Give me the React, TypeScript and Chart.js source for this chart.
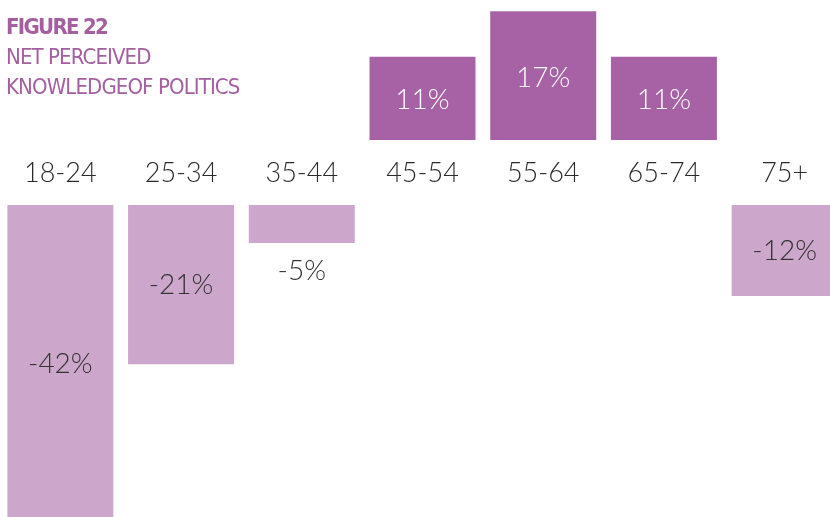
import React, { useEffect, useRef } from "react";
import { Chart, registerables } from "chart.js";

Chart.register(...registerables);

const categories = ["18-24", "25-34", "35-44", "45-54", "55-64", "65-74", "75+"];
const values = [-42, -21, -5, 11, 17, 11, -12];
const titleLines = ["FIGURE 22", "NET PERCEIVED", "KNOWLEDGEOF POLITICS"];

const GAP = 4.29; // half-gap between positive and negative baselines, in value units
const POS_COLOR = "#a662a5";
const NEG_COLOR = "#cca6cb";
const FONT = "Lato";

const labelPlugin = {
  id: "barLabels",
  afterDatasetsDraw(chart: any) {
    const meta = chart.getDatasetMeta(0);
    const ctx = chart.ctx;
    ctx.save();
    ctx.font = `300 28px ${FONT}`;
    ctx.textAlign = "center";
    ctx.textBaseline = "middle";
    meta.data.forEach((bar: any, i: number) => {
      const v = values[i];
      const { x, y, base } = bar.getProps(["x", "y", "base"], true);
      const h = Math.abs(y - base);
      let ty = (y + base) / 2;
      if (v >= 0) {
        ctx.fillStyle = "#ffffff";
        ty += 2;
      } else {
        ctx.fillStyle = "#333333";
        if (h < 50) ty = y + 28;
      }
      ctx.fillText(`${v}%`, x, ty);
    });
    ctx.restore();
  },
};

export default function App() {
  const ref = useRef<HTMLCanvasElement>(null);
  useEffect(() => {
    let chart: Chart | null = null;
    let cancelled = false;
    const make = () => {
      if (cancelled || !ref.current) return;
      chart = new Chart(ref.current, {
        type: "bar",
        data: {
          labels: categories,
          datasets: [
            {
              data: values.map((v) => (v >= 0 ? [GAP, GAP + v] : [-GAP, -GAP + v])) as any,
              backgroundColor: values.map((v) => (v >= 0 ? POS_COLOR : NEG_COLOR)),
              borderWidth: 0,
              barPercentage: 0.878,
              categoryPercentage: 1,
            },
          ],
        },
        options: {
          animation: false,
          responsive: true,
          maintainAspectRatio: false,
          layout: { padding: 0 },
          plugins: { legend: { display: false }, tooltip: { enabled: false }, title: { display: false } },
          scales: {
            x: {
              position: { y: 0 } as any,
              grid: { display: false },
              border: { display: false },
              ticks: {
                color: "#2a2a2a",
                font: { family: FONT, size: 27, weight: "300" as any, lineHeight: 1.2 },
                padding: -23,
                maxRotation: 0,
                autoSkip: false,
              },
            },
            y: {
              display: false,
              min: -45.44,
              max: 22.76,
            },
          },
        },
        plugins: [labelPlugin],
      });
    };
    const fontsReady = (document as any).fonts
      ? Promise.all([
          (document as any).fonts.load(`300 28px ${FONT}`),
          (document as any).fonts.load(`400 28px ${FONT}`),
        ]).catch(() => null)
      : Promise.resolve(null);
    fontsReady.then(make);
    return () => {
      cancelled = true;
      if (chart) chart.destroy();
    };
  }, []);

  return (
    <div style={{ position: "absolute", left: 0, top: 0, width: 830, height: 517, overflow: "hidden", background: "#fff" }}>
      <div style={{ position: "absolute", left: 0, top: 0, width: 845, height: 517 }}>
        <canvas ref={ref} />
      </div>
      <div
        style={{
          position: "absolute",
          left: 6,
          top: 12,
          color: "#a35fa0",
          fontFamily: "'DejaVu Sans Condensed', sans-serif",
          fontSize: 22,
          lineHeight: "30px",
          letterSpacing: "-0.9px",
          whiteSpace: "nowrap",
        }}
      >
        <div style={{ fontWeight: 700, letterSpacing: "-1.7px" }}>{titleLines[0]}</div>
        <div>{titleLines[1]}</div>
        <div>{titleLines[2]}</div>
      </div>
    </div>
  );
}
